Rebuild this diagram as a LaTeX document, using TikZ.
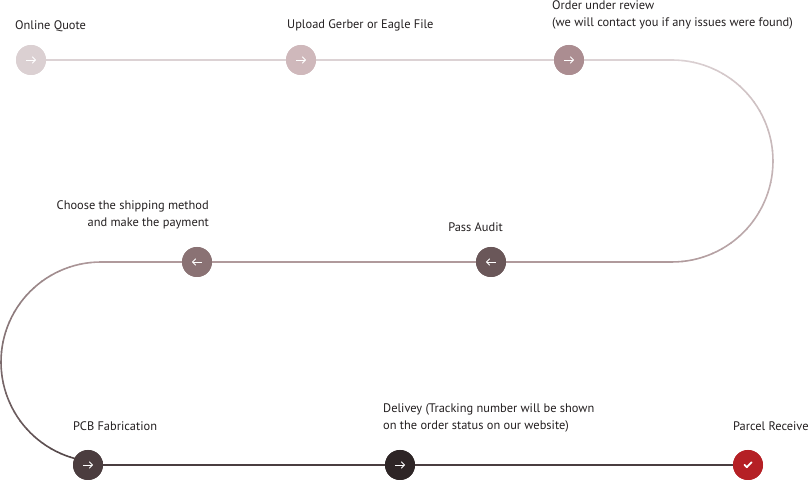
\documentclass[tikz,border=0pt]{standalone}
\usepackage{fontspec}
\setmainfont{PT Sans}
\usetikzlibrary{calc,arrows.meta}
\definecolor{txt}{HTML}{231F20}
\definecolor{cA}{HTML}{DBD0D2}
\definecolor{cB}{HTML}{CFB8BB}
\definecolor{cC}{HTML}{AB8D91}
\definecolor{cD}{HTML}{6A5759}
\definecolor{cE}{HTML}{8A7274}
\definecolor{cF}{HTML}{4B3D3F}
\definecolor{cG}{HTML}{2E2526}
\definecolor{cH}{HTML}{B52025}
\definecolor{lTop}{HTML}{DCD2D4}
\definecolor{lMid}{HTML}{B09A9C}
\definecolor{lBot}{HTML}{4A3E40}
\tikzset{
  stepdot/.style={circle,minimum size=30pt,inner sep=0pt,draw=none},
  lbl/.style={inner sep=0pt,font=\fontsize{12.4}{17.5}\selectfont,text=txt},
  conn/.style={line width=1.6pt},
  icon/.style={white,line width=0.9pt,-{Straight Barb[length=3pt,width=6.5pt]}},
}
\begin{document}
\begin{tikzpicture}[x=1pt,y=1pt]
\useasboundingbox (0,0) rectangle (811,481);
% anchor coordinates
\coordinate (rc) at (672,320);
\coordinate (lc) at (101,119);
\coordinate (rTop) at (672,421);
\coordinate (rBot) at (672,219);
\coordinate (lTopP) at (101,219);
\coordinate (lBotP) at (101,19);
% step nodes
\node[stepdot,fill=cA] (s1) at (31,421) {};
\node[stepdot,fill=cB] (s2) at (301,421) {};
\node[stepdot,fill=cC] (s3) at (569,421) {};
\node[stepdot,fill=cD] (s4) at (491,219) {};
\node[stepdot,fill=cE] (s5) at (197,219) {};
\node[stepdot,fill=cF] (s6) at (88,16) {};
\node[stepdot,fill=cG] (s7) at (400,16) {};
\node[stepdot,fill=cH] (s8) at (748,16) {};
% connectors
\path[conn,draw=lTop] (s1) -- (s2) (s2) -- (s3) (s3) -- (rTop);
\foreach \i in {0,...,29} {
  \pgfmathsetmacro\a{90-\i*6}
  \pgfmathsetmacro\p{100*\i/29}
  \draw[conn,color=lMid!\p!lTop] (rc) ++(\a:101pt) arc[start angle=\a, end angle=\a-6.4, radius=101pt];
}
\path[conn,draw=lMid] (rBot) -- (s4) (s4) -- (s5) (s5) -- (lTopP);
\foreach \i in {0,...,29} {
  \pgfmathsetmacro\a{90+\i*6}
  \pgfmathsetmacro\p{100*\i/29}
  \draw[conn,color=lBot!\p!lMid] (lc) ++(\a:100pt) arc[start angle=\a, end angle=\a+6.4, radius=100pt];
}
\path[conn,draw=lBot] (lBotP) -- (s6) (s6) -- (s7) (s7) -- (s8);
% circles on top of connectors
\foreach \n/\c in {s1/cA,s2/cB,s3/cC,s4/cD,s5/cE,s6/cF,s7/cG,s8/cH}
  \fill[\c] (\n) circle[radius=15pt];
% icons
\foreach \n in {s1,s2,s3,s6,s7}
  \draw[icon] ($(\n)+(-4.8,0)$) -- ($(\n)+(5,0)$);
\foreach \n in {s4,s5}
  \draw[icon] ($(\n)+(4.8,0)$) -- ($(\n)+(-5,0)$);
\draw[white,line width=1.8pt,line cap=round,line join=round]
  ($(s8)+(-3.6,0.2)$) -- ($(s8)+(-1.2,-2.2)$) -- ($(s8)+(3.6,2.8)$);
% labels
\node[lbl,anchor=base west] (t1) at (15,451) {Online Quote};
\node[lbl,anchor=base west] (t2) at (287,452.5) {Upload Gerber or Eagle File};
\node[lbl,anchor=base west,align=left] (t3) at (552,454) {Order under review\\(we will contact you if any issues were found)};
\node[lbl,anchor=base east,align=right] (t5) at (209,254) {Choose the shipping method\\and make the payment};
\node[lbl,anchor=base east] (t4) at (503,249) {Pass Audit};
\node[lbl,anchor=base west] (t6) at (73,50) {PCB Fabrication};
\node[lbl,anchor=base west,align=left] (t7) at (383,51) {Delivey (Tracking number will be shown\\on the order status on our website)};
\node[lbl,anchor=base west] (t8) at (733,50) {Parcel Receive};
\end{tikzpicture}
\end{document}
